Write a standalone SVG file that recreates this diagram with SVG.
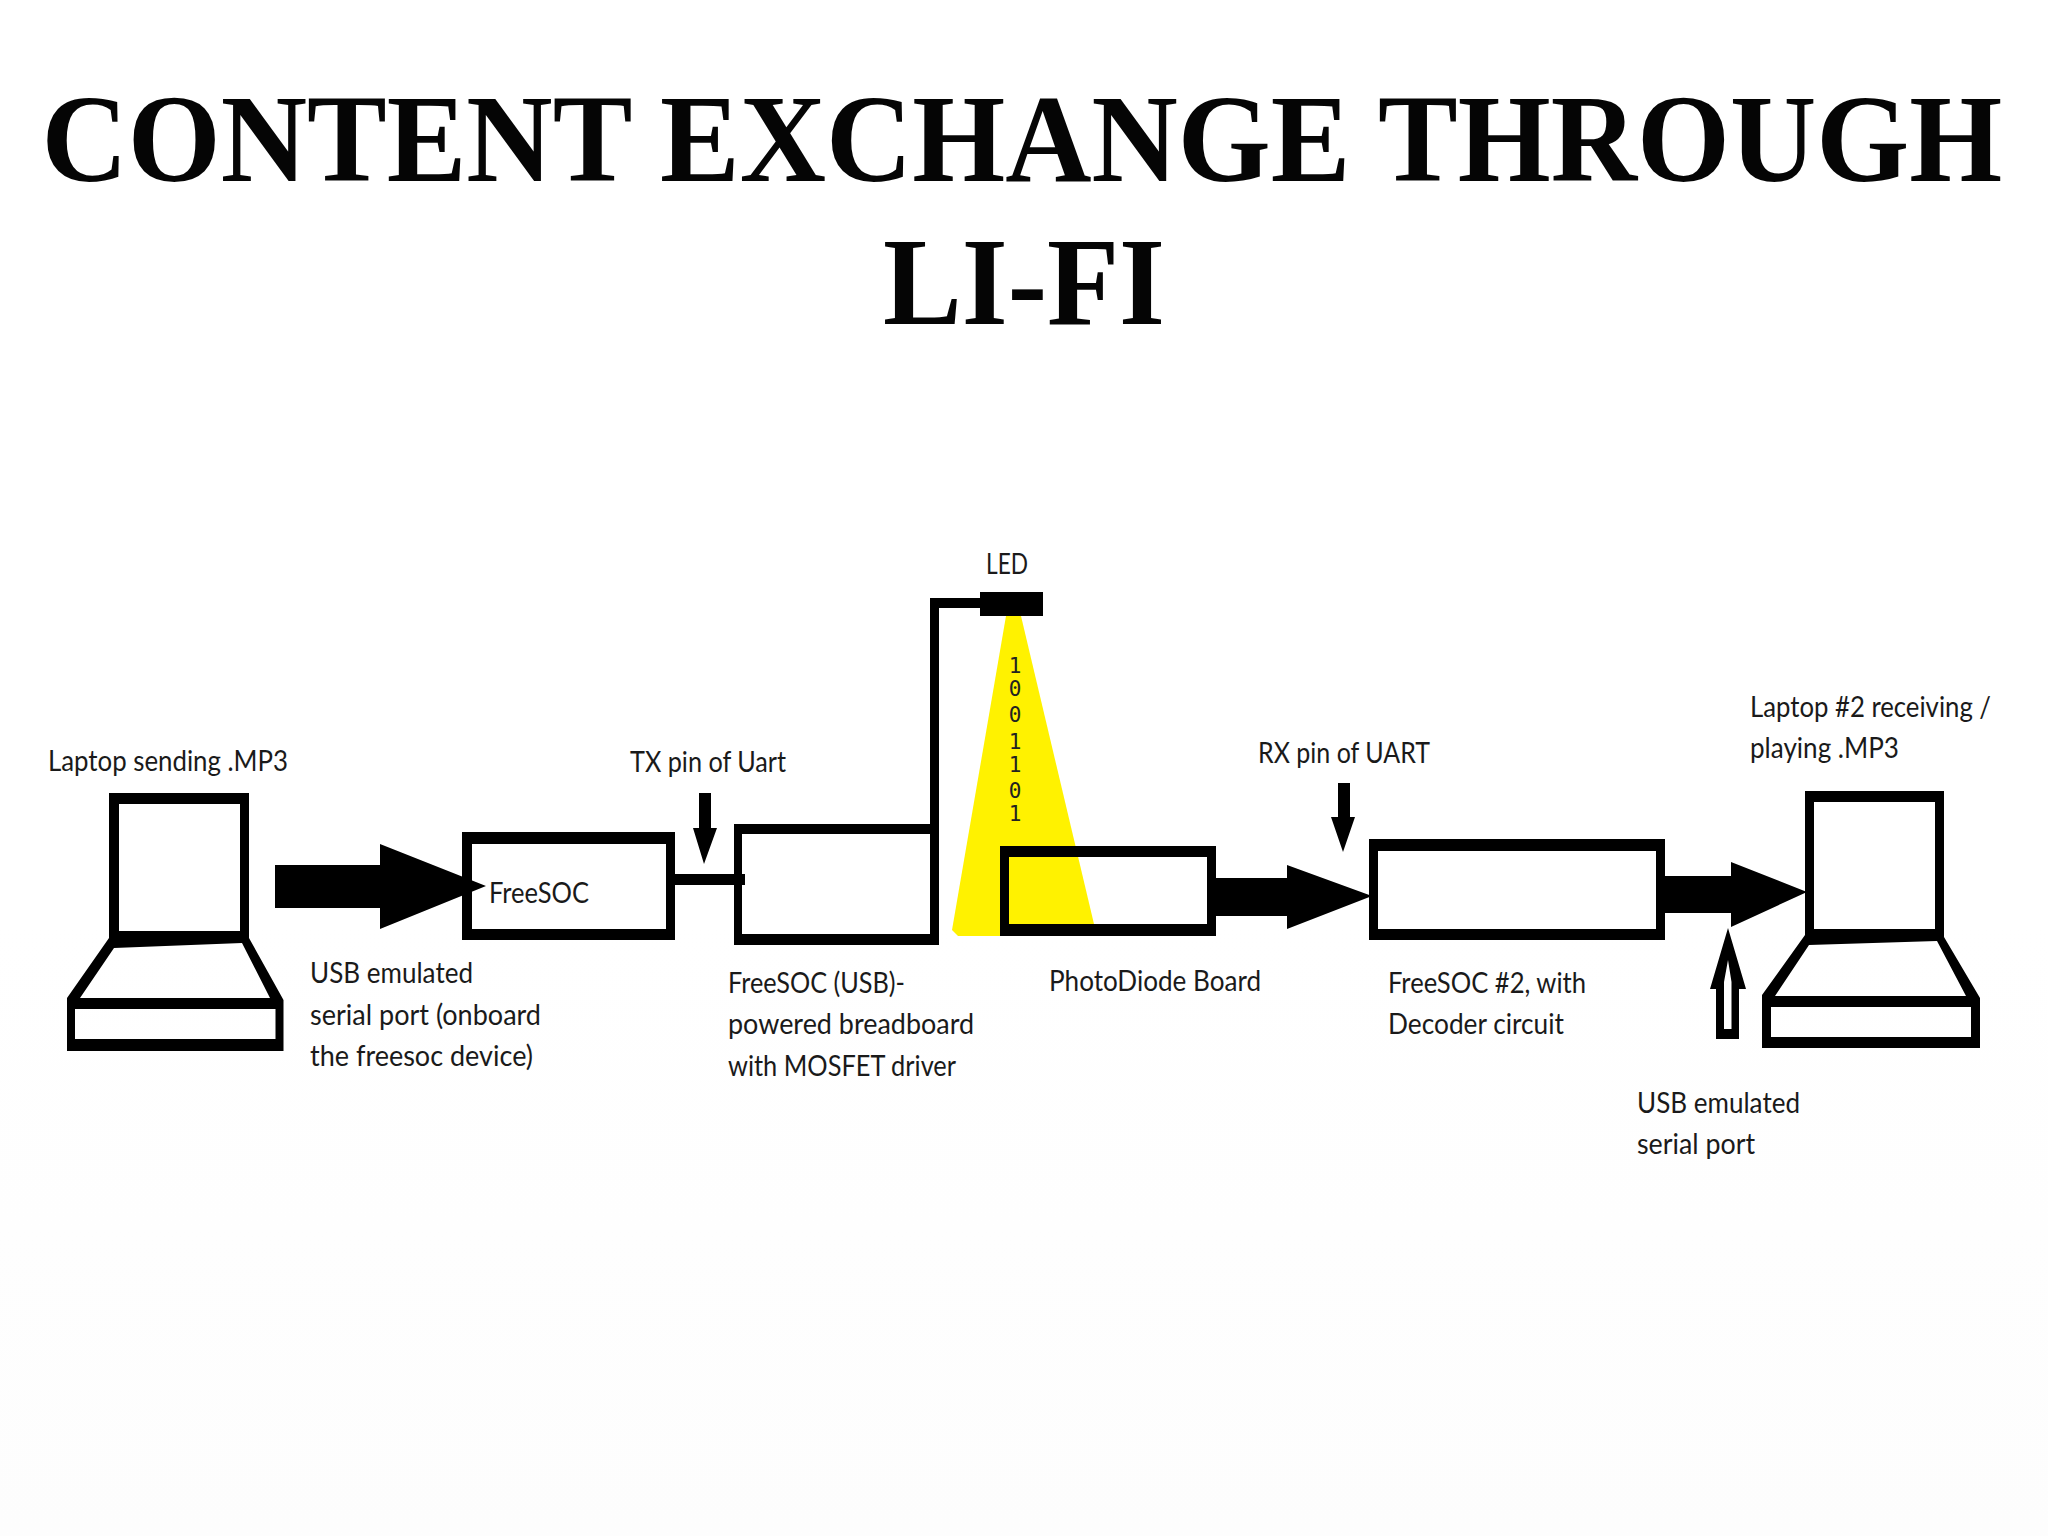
<svg xmlns="http://www.w3.org/2000/svg" width="2048" height="1536" viewBox="0 0 2048 1536">
<style>
.t{font-family:"Lato","Open Sans","Liberation Sans",sans-serif;font-size:28px;fill:#1a1a1a}
.title{font-family:"Liberation Serif","Times New Roman",serif;font-weight:bold;font-size:124px;fill:#050505}
.d{font-family:"DejaVu Sans Mono","Liberation Mono",monospace;font-size:21px;fill:#222;text-anchor:middle}
.k{fill:#000;fill-rule:evenodd}
</style>
<defs><linearGradient id="bg" x1="0" y1="0" x2="0" y2="1"><stop offset="0.6" stop-color="#fff"/><stop offset="1" stop-color="#fdfdfd"/></linearGradient></defs>
<rect width="2048" height="1536" fill="url(#bg)"/>
<g id="title">
<text class="title" transform="translate(41.500 181) scale(0.9636 1)">CONTENT EXCHANGE THROUGH</text>
<text class="title" transform="translate(883 324) scale(0.952 1)">LI-FI</text>
</g>
<g id="beam">
<polygon points="1006,616 1021,616 1094,924 1094,930 1009,936 958,936 952,930" fill="#fff200"/>
<text class="d" x="1015" y="673">1</text>
<text class="d" x="1015" y="696">0</text>
<text class="d" x="1015" y="722">0</text>
<text class="d" x="1015" y="749">1</text>
<text class="d" x="1015" y="772">1</text>
<text class="d" x="1015" y="798">0</text>
<text class="d" x="1015" y="821">1</text>
</g>
<g id="connectors">
<polygon class="k" points="275,865 380,865 380,844 486,886 380,929 380,908 275,908"/>
<rect class="k" x="675" y="874" width="70" height="11"/>
<polygon class="k" points="699,793 711,793 711,828 717,828 704,864 693,828 699,828"/>
<path class="k" d="M930,824V598H980V608H939V824Z"/>
<polygon class="k" points="1216,878 1287,878 1287,865 1372,896 1287,929 1287,916 1216,916"/>
<polygon class="k" points="1338,783 1350,783 1350,817 1355,817 1343,852 1331,817 1338,817"/>
<polygon class="k" points="1665,876 1731,876 1731,862 1807,892 1731,927 1731,913 1665,913"/>
<path class="k" d="M1728,928L1746,989H1739V1039H1716V989H1710ZM1728,960L1724,982V1029H1731.5V982Z"/>
</g>
<g id="laptop1">
<path class="k" d="M109,793H249V938L283.5,1000V1051H67V998L109,938ZM119,804V931H240V804ZM114,948L80,998H270L242,943ZM75,1009V1039H275.5V1009Z"/>
<text class="t" x="48" y="771" textLength="240" lengthAdjust="spacingAndGlyphs">Laptop sending .MP3</text>
</g>
<g id="freesoc1">
<path class="k" d="M462,832H675V940H462ZM472,844V929H666V844Z"/>
<text class="t" x="489" y="903" textLength="100" lengthAdjust="spacingAndGlyphs">FreeSOC</text>
<text class="t" x="310" y="983" textLength="163" lengthAdjust="spacingAndGlyphs">USB emulated</text>
<text class="t" x="310" y="1025" textLength="231" lengthAdjust="spacingAndGlyphs">serial port (onboard</text>
<text class="t" x="310" y="1066" textLength="223" lengthAdjust="spacingAndGlyphs">the freesoc device)</text>
</g>
<g id="txlabel"><text class="t" x="630" y="772" textLength="156" lengthAdjust="spacingAndGlyphs">TX pin of Uart</text></g>
<g id="breadboard">
<path class="k" d="M734,824H939V945H734ZM742,834V934H930V834Z"/>
<text class="t" x="728" y="993" textLength="177" lengthAdjust="spacingAndGlyphs">FreeSOC (USB)-</text>
<text class="t" x="728" y="1034" textLength="246" lengthAdjust="spacingAndGlyphs">powered breadboard</text>
<text class="t" x="728" y="1076" textLength="228" lengthAdjust="spacingAndGlyphs">with MOSFET driver</text>
</g>
<g id="led">
<rect class="k" x="980" y="592" width="63" height="24"/>
<text class="t" x="986" y="574" textLength="42" lengthAdjust="spacingAndGlyphs">LED</text>
</g>
<g id="photodiode">
<path class="k" d="M1000,846H1216V936H1000ZM1009,857V924H1207V857Z"/>
<text class="t" x="1049" y="991" textLength="212" lengthAdjust="spacingAndGlyphs">PhotoDiode Board</text>
</g>
<g id="rxlabel"><text class="t" x="1258" y="763" textLength="172" lengthAdjust="spacingAndGlyphs">RX pin of UART</text></g>
<g id="freesoc2">
<path class="k" d="M1369,839H1665V940H1369ZM1378,851V929H1656V851Z"/>
<text class="t" x="1388" y="993" textLength="198" lengthAdjust="spacingAndGlyphs">FreeSOC #2, with</text>
<text class="t" x="1388" y="1034" textLength="176" lengthAdjust="spacingAndGlyphs">Decoder circuit</text>
</g>
<g id="laptop2">
<path class="k" d="M1805,791H1944V937L1980,998V1048H1762V995L1805,935ZM1814,802V929H1935V802ZM1809,945L1775,996H1966L1937,941ZM1771,1007V1037H1971V1007Z"/>
<text class="t" x="1750" y="717" textLength="241" lengthAdjust="spacingAndGlyphs">Laptop #2 receiving /</text>
<text class="t" x="1750" y="758" textLength="149" lengthAdjust="spacingAndGlyphs">playing .MP3</text>
<text class="t" x="1637" y="1113" textLength="163" lengthAdjust="spacingAndGlyphs">USB emulated</text>
<text class="t" x="1637" y="1154" textLength="118" lengthAdjust="spacingAndGlyphs">serial port</text>
</g>
</svg>
